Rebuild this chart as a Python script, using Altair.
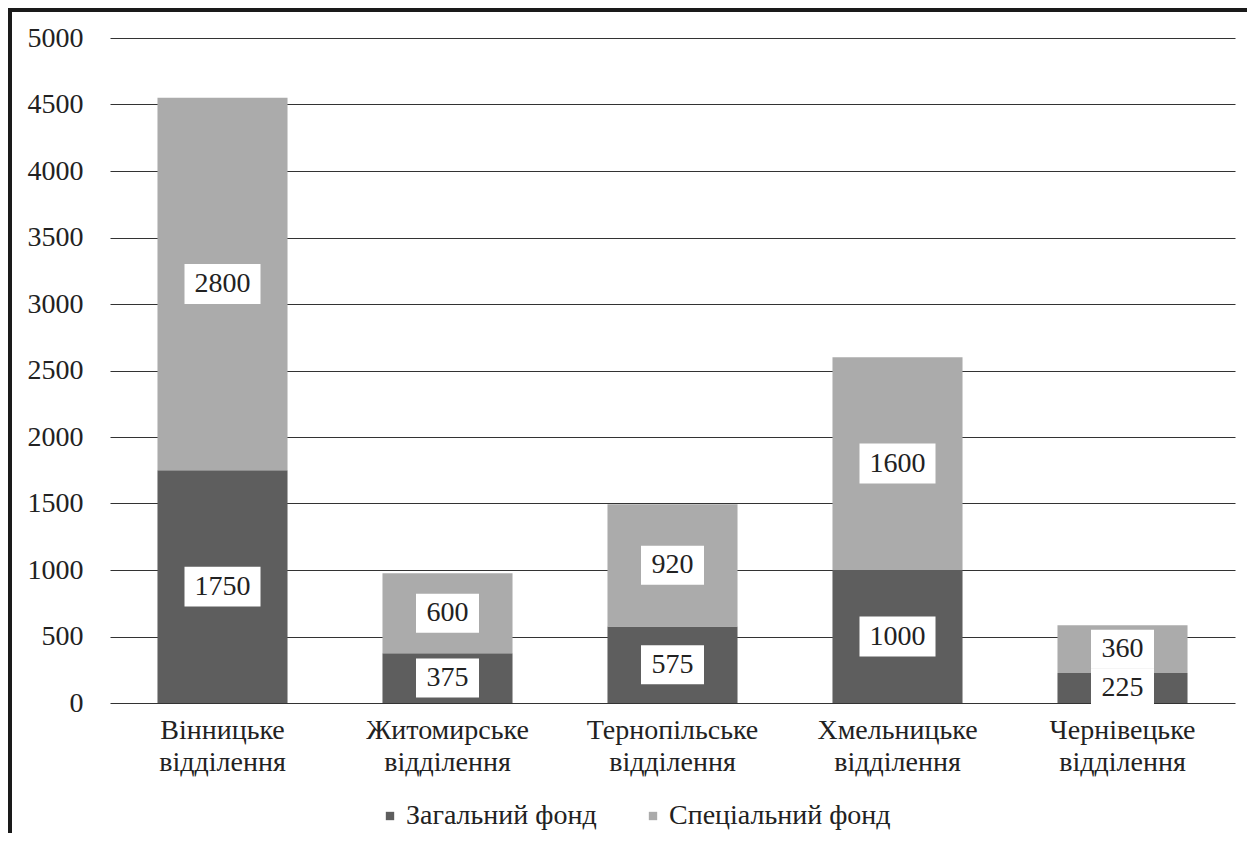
import altair as alt
import pandas as pd

categories = ["Вінницьке відділення", "Житомирське відділення", "Тернопільське відділення",
              "Хмельницьке відділення", "Чернівецьке відділення"]
general = [1750, 375, 575, 1000, 225]
special = [2800, 600, 920, 1600, 360]
series = ["Загальний фонд", "Спеціальний фонд"]
y_ticks = [0, 500, 1000, 1500, 2000, 2500, 3000, 3500, 4000, 4500, 5000]

rows = []
for c, g, s in zip(categories, general, special):
    rows.append(dict(cat=c, fund=series[0], ord=0, y0=0, y1=g, mid=g / 2,
                     label=str(g), digits=str(len(str(g)))))
    rows.append(dict(cat=c, fund=series[1], ord=1, y0=g, y1=g + s, mid=g + s / 2,
                     label=str(s), digits=str(len(str(s)))))
df = pd.DataFrame(rows)

FONT = "Liberation Serif"
TXT = "#222222"
FS = 28

xenc = alt.X("cat:N", sort=categories,
             scale=alt.Scale(paddingInner=0.422, paddingOuter=0.211),
             axis=alt.Axis(title=None, labelAngle=0, labelExpr="split(datum.label, ' ')",
                           labelFont=FONT, labelFontSize=FS, labelColor=TXT,
                           labelPadding=13, labelLineHeight=32, ticks=False,
                           domain=False, grid=False))

yscale = alt.Scale(domain=[0, 5000], nice=False)
yaxis = alt.Axis(title=None, values=y_ticks, format="d", labelFont=FONT, labelFontSize=FS,
                 labelColor=TXT, labelPadding=27, ticks=False, domain=False,
                 grid=True, gridColor="#333333", gridWidth=1.2)

base = alt.Chart(df)

bars = base.mark_bar(stroke=None).encode(
    x=xenc,
    y=alt.Y("y0:Q", scale=yscale, axis=yaxis),
    y2="y1:Q",
    color=alt.Color("fund:N", scale=alt.Scale(domain=series, range=["#5e5e5e", "#ababab"]),
                    legend=alt.Legend(title=None, orient="none", legendX=266, legendY=764,
                                      direction="horizontal", symbolType="square",
                                      symbolSize=70, symbolStrokeWidth=0,
                                      labelFont=FONT, labelFontSize=FS, labelColor=TXT,
                                      labelLimit=0, labelOffset=2, columnPadding=42)),
)

p4 = "M-1,-0.526L1,-0.526L1,0.526L-1,0.526Z"
p3 = "M-0.829,-0.513L0.829,-0.513L0.829,0.513L-0.829,0.513Z"

boxes = base.mark_point(filled=True, fill="white", opacity=1, size=5776, strokeWidth=0).encode(
    x=xenc,
    y=alt.Y("mid:Q", scale=yscale, axis=yaxis),
    shape=alt.Shape("digits:N", scale=alt.Scale(domain=["3", "4"], range=[p3, p4]), legend=None),
)

labels = base.mark_text(font=FONT, fontSize=FS, color=TXT, baseline="middle").encode(
    x=xenc,
    y=alt.Y("mid:Q", scale=yscale, axis=yaxis),
    text="label:N",
)

frame_df = pd.DataFrame({"k": [0]})
top_rule = alt.Chart(frame_df).mark_rule(color="#1a1a1a", strokeWidth=4).encode(
    x=alt.value(-100), x2=alt.value(1300), y=alt.value(-28))
left_rule = alt.Chart(frame_df).mark_rule(color="#1a1a1a", strokeWidth=4).encode(
    x=alt.value(-100), y=alt.value(-30), y2=alt.value(900))

chart = alt.layer(bars, boxes, labels, top_rule, left_rule).properties(
    width=1125, height=665,
    autosize=alt.AutoSizeParams(type="none"),
    padding={"left": 102, "top": 30, "right": 12, "bottom": 130},
    background="white",
).configure_view(stroke=None)

chart.save("out.html", embed_options={"renderer": "svg", "actions": False})
